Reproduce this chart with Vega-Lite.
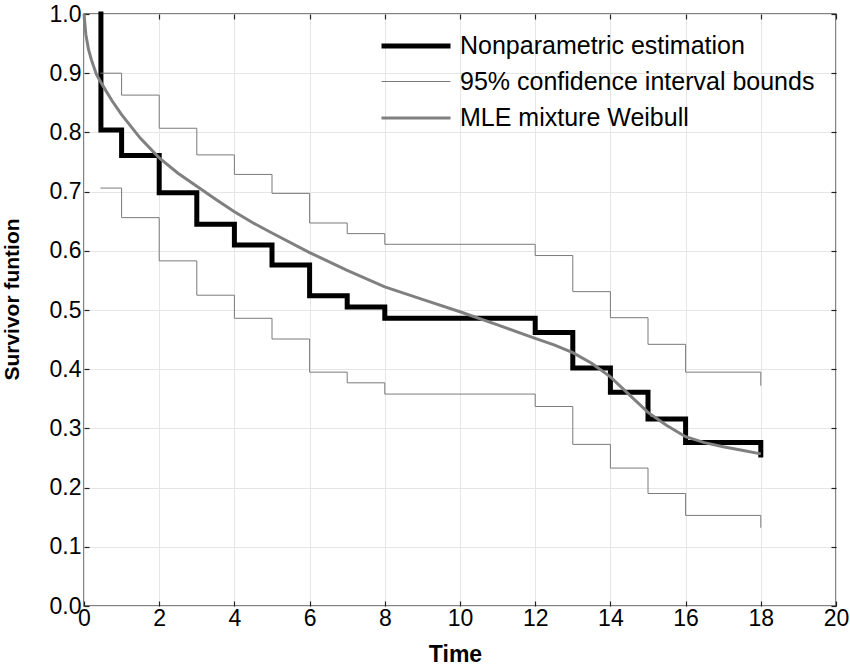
{
  "$schema": "https://vega.github.io/schema/vega-lite/v6.json",
  "width": 752,
  "height": 592,
  "autosize": "none",
  "padding": {"left": 84, "top": 14, "right": 14, "bottom": 59},
  "background": "white",
  "config": {
    "font": "Liberation Sans",
    "view": {"stroke": "#5a5a5a", "strokeWidth": 1.5},
    "axis": {
      "labelColor": "black",
      "labelFont": "Liberation Sans",
      "labelFontSize": 23,
      "tickColor": "#222",
      "tickWidth": 1.2,
      "tickSize": -5,
      "domain": false,
      "gridColor": "#e6e6e6",
      "gridWidth": 1,
      "titleColor": "black",
      "titleFont": "Liberation Sans",
      "titleFontWeight": "bold"
    }
  },
  "datasets": {
    "steps": [
      {"series": "Nonparametric estimation", "bound": "km", "t": 0.45, "s": 1.0},
      {"series": "Nonparametric estimation", "bound": "km", "t": 0.45, "s": 0.804},
      {"series": "Nonparametric estimation", "bound": "km", "t": 1, "s": 0.761},
      {"series": "Nonparametric estimation", "bound": "km", "t": 2, "s": 0.698},
      {"series": "Nonparametric estimation", "bound": "km", "t": 3, "s": 0.645},
      {"series": "Nonparametric estimation", "bound": "km", "t": 4, "s": 0.61},
      {"series": "Nonparametric estimation", "bound": "km", "t": 5, "s": 0.576},
      {"series": "Nonparametric estimation", "bound": "km", "t": 6, "s": 0.524},
      {"series": "Nonparametric estimation", "bound": "km", "t": 7, "s": 0.505},
      {"series": "Nonparametric estimation", "bound": "km", "t": 8, "s": 0.486},
      {"series": "Nonparametric estimation", "bound": "km", "t": 12, "s": 0.462},
      {"series": "Nonparametric estimation", "bound": "km", "t": 13, "s": 0.402},
      {"series": "Nonparametric estimation", "bound": "km", "t": 14, "s": 0.361},
      {"series": "Nonparametric estimation", "bound": "km", "t": 15, "s": 0.316},
      {"series": "Nonparametric estimation", "bound": "km", "t": 16, "s": 0.276},
      {"series": "Nonparametric estimation", "bound": "km", "t": 18, "s": 0.276},
      {"series": "Nonparametric estimation", "bound": "km", "t": 18, "s": 0.255},

      {"series": "95% confidence interval bounds", "bound": "upper", "t": 0.45, "s": 0.9},
      {"series": "95% confidence interval bounds", "bound": "upper", "t": 1, "s": 0.863},
      {"series": "95% confidence interval bounds", "bound": "upper", "t": 2, "s": 0.807},
      {"series": "95% confidence interval bounds", "bound": "upper", "t": 3, "s": 0.762},
      {"series": "95% confidence interval bounds", "bound": "upper", "t": 4, "s": 0.729},
      {"series": "95% confidence interval bounds", "bound": "upper", "t": 5, "s": 0.697},
      {"series": "95% confidence interval bounds", "bound": "upper", "t": 6, "s": 0.647},
      {"series": "95% confidence interval bounds", "bound": "upper", "t": 7, "s": 0.629},
      {"series": "95% confidence interval bounds", "bound": "upper", "t": 8, "s": 0.611},
      {"series": "95% confidence interval bounds", "bound": "upper", "t": 12, "s": 0.592},
      {"series": "95% confidence interval bounds", "bound": "upper", "t": 13, "s": 0.531},
      {"series": "95% confidence interval bounds", "bound": "upper", "t": 14, "s": 0.487},
      {"series": "95% confidence interval bounds", "bound": "upper", "t": 15, "s": 0.442},
      {"series": "95% confidence interval bounds", "bound": "upper", "t": 16, "s": 0.395},
      {"series": "95% confidence interval bounds", "bound": "upper", "t": 18, "s": 0.395},
      {"series": "95% confidence interval bounds", "bound": "upper", "t": 18, "s": 0.373},

      {"series": "95% confidence interval bounds", "bound": "lower", "t": 0.45, "s": 0.706},
      {"series": "95% confidence interval bounds", "bound": "lower", "t": 1, "s": 0.656},
      {"series": "95% confidence interval bounds", "bound": "lower", "t": 2, "s": 0.583},
      {"series": "95% confidence interval bounds", "bound": "lower", "t": 3, "s": 0.525},
      {"series": "95% confidence interval bounds", "bound": "lower", "t": 4, "s": 0.486},
      {"series": "95% confidence interval bounds", "bound": "lower", "t": 5, "s": 0.451},
      {"series": "95% confidence interval bounds", "bound": "lower", "t": 6, "s": 0.395},
      {"series": "95% confidence interval bounds", "bound": "lower", "t": 7, "s": 0.377},
      {"series": "95% confidence interval bounds", "bound": "lower", "t": 8, "s": 0.358},
      {"series": "95% confidence interval bounds", "bound": "lower", "t": 12, "s": 0.337},
      {"series": "95% confidence interval bounds", "bound": "lower", "t": 13, "s": 0.273},
      {"series": "95% confidence interval bounds", "bound": "lower", "t": 14, "s": 0.233},
      {"series": "95% confidence interval bounds", "bound": "lower", "t": 15, "s": 0.19},
      {"series": "95% confidence interval bounds", "bound": "lower", "t": 16, "s": 0.153},
      {"series": "95% confidence interval bounds", "bound": "lower", "t": 18, "s": 0.153},
      {"series": "95% confidence interval bounds", "bound": "lower", "t": 18, "s": 0.133}
    ],
    "weibull": [
      {"series": "MLE mixture Weibull", "t": 0, "s": 1.0},
      {"series": "MLE mixture Weibull", "t": 0.05, "s": 0.965},
      {"series": "MLE mixture Weibull", "t": 0.12, "s": 0.94},
      {"series": "MLE mixture Weibull", "t": 0.2, "s": 0.922},
      {"series": "MLE mixture Weibull", "t": 0.33, "s": 0.898},
      {"series": "MLE mixture Weibull", "t": 0.5, "s": 0.879},
      {"series": "MLE mixture Weibull", "t": 0.75, "s": 0.853},
      {"series": "MLE mixture Weibull", "t": 1, "s": 0.83},
      {"series": "MLE mixture Weibull", "t": 1.5, "s": 0.79},
      {"series": "MLE mixture Weibull", "t": 2, "s": 0.757},
      {"series": "MLE mixture Weibull", "t": 2.5, "s": 0.731},
      {"series": "MLE mixture Weibull", "t": 3, "s": 0.709},
      {"series": "MLE mixture Weibull", "t": 3.5, "s": 0.687},
      {"series": "MLE mixture Weibull", "t": 4, "s": 0.666},
      {"series": "MLE mixture Weibull", "t": 4.5, "s": 0.647},
      {"series": "MLE mixture Weibull", "t": 5, "s": 0.63},
      {"series": "MLE mixture Weibull", "t": 6, "s": 0.597},
      {"series": "MLE mixture Weibull", "t": 7, "s": 0.567},
      {"series": "MLE mixture Weibull", "t": 8, "s": 0.539},
      {"series": "MLE mixture Weibull", "t": 9, "s": 0.518},
      {"series": "MLE mixture Weibull", "t": 10, "s": 0.497},
      {"series": "MLE mixture Weibull", "t": 11, "s": 0.475},
      {"series": "MLE mixture Weibull", "t": 12, "s": 0.452},
      {"series": "MLE mixture Weibull", "t": 12.5, "s": 0.441},
      {"series": "MLE mixture Weibull", "t": 13, "s": 0.428},
      {"series": "MLE mixture Weibull", "t": 13.5, "s": 0.41},
      {"series": "MLE mixture Weibull", "t": 14, "s": 0.387},
      {"series": "MLE mixture Weibull", "t": 14.5, "s": 0.357},
      {"series": "MLE mixture Weibull", "t": 15, "s": 0.327},
      {"series": "MLE mixture Weibull", "t": 15.5, "s": 0.305},
      {"series": "MLE mixture Weibull", "t": 16, "s": 0.286},
      {"series": "MLE mixture Weibull", "t": 16.5, "s": 0.276},
      {"series": "MLE mixture Weibull", "t": 17, "s": 0.269},
      {"series": "MLE mixture Weibull", "t": 17.5, "s": 0.263},
      {"series": "MLE mixture Weibull", "t": 18, "s": 0.257}
    ]
  },
  "resolve": {"axis": {"x": "independent", "y": "independent"}},
  "layer": [
    {
      "data": {"name": "steps"},
      "mark": {"type": "line", "interpolate": "step-after", "strokeCap": "square"},
      "encoding": {
        "x": {
          "field": "t", "type": "quantitative",
          "scale": {"domain": [0, 20], "nice": false, "zero": false},
          "axis": {
            "title": "Time", "titleFontSize": 23,
            "values": [0, 2, 4, 6, 8, 10, 12, 14, 16, 18, 20],
            "labelPadding": 6, "labelFlush": false,
            "titleX": 371, "titleY": 55, "titleBaseline": "alphabetic"
          }
        },
        "y": {
          "field": "s", "type": "quantitative",
          "scale": {"domain": [0, 1], "nice": false},
          "axis": {
            "title": "Survivor funtion", "titleFontSize": 21,
            "values": [0, 0.1, 0.2, 0.3, 0.4, 0.5, 0.6, 0.7, 0.8, 0.9, 1],
            "format": ".1f", "labelPadding": 8, "labelFlush": false,
            "titleX": -72, "titleY": 285, "titleBaseline": "middle"
          }
        },
        "detail": {"field": "bound"},
        "color": {
          "field": "series", "type": "nominal",
          "scale": {
            "domain": ["Nonparametric estimation", "95% confidence interval bounds", "MLE mixture Weibull"],
            "range": ["#000000", "#7a7a7a", "#808080"]
          },
          "legend": {
            "title": null,
            "orient": "none",
            "legendX": 299,
            "legendY": 18,
            "padding": 0,
            "symbolType": "M-3,0H3",
            "symbolSize": 529,
            "symbolOffset": 19,
            "symbolFillColor": "transparent",
            "labelFontSize": 25,
            "labelFont": "Liberation Sans",
            "labelColor": "black",
            "labelOffset": 30,
            "rowPadding": 10,
            "labelLimit": 420
          }
        },
        "strokeWidth": {
          "field": "series", "type": "nominal",
          "scale": {
            "type": "ordinal",
            "domain": ["Nonparametric estimation", "95% confidence interval bounds", "MLE mixture Weibull"],
            "range": [5, 1, 3]
          },
          "legend": null
        }
      }
    },
    {
      "data": {"name": "weibull"},
      "mark": {"type": "line", "interpolate": "linear"},
      "encoding": {
        "x": {
          "field": "t", "type": "quantitative",
          "axis": {
            "orient": "top", "title": null, "labels": false, "grid": false,
            "values": [0, 2, 4, 6, 8, 10, 12, 14, 16, 18, 20]
          }
        },
        "y": {
          "field": "s", "type": "quantitative",
          "axis": {
            "orient": "right", "title": null, "labels": false, "grid": false,
            "values": [0, 0.1, 0.2, 0.3, 0.4, 0.5, 0.6, 0.7, 0.8, 0.9, 1]
          }
        },
        "color": {
          "field": "series", "type": "nominal",
          "scale": {
            "domain": ["Nonparametric estimation", "95% confidence interval bounds", "MLE mixture Weibull"],
            "range": ["#000000", "#7a7a7a", "#808080"]
          }
        },
        "strokeWidth": {
          "field": "series", "type": "nominal",
          "scale": {
            "type": "ordinal",
            "domain": ["Nonparametric estimation", "95% confidence interval bounds", "MLE mixture Weibull"],
            "range": [5, 1, 3]
          },
          "legend": null
        }
      }
    }
  ]
}
